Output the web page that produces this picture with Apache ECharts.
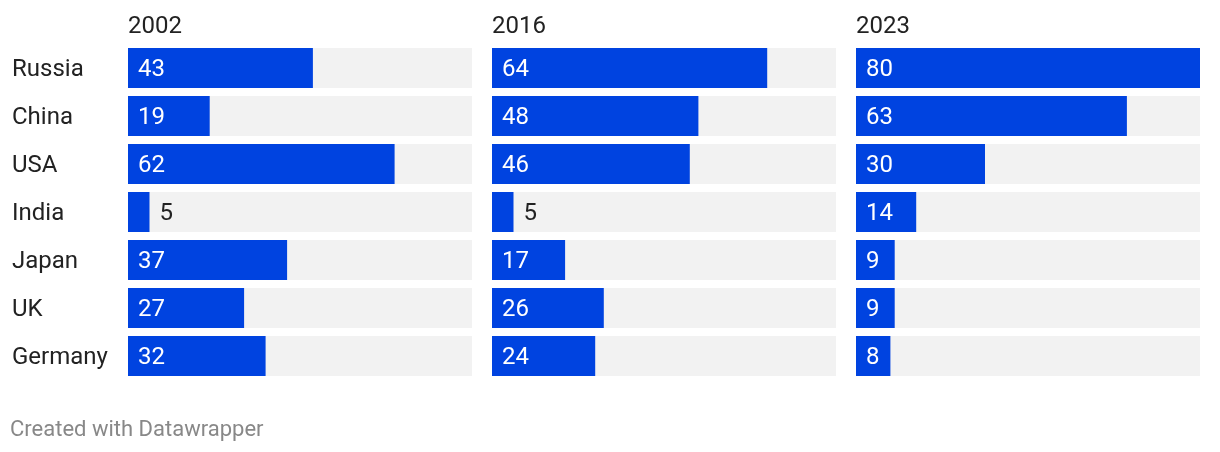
<!DOCTYPE html>
<html>
<head>
<meta charset="utf-8">
<script src="https://cdn.jsdelivr.net/npm/echarts@6/dist/echarts.min.js"></script>
<style>
  html, body { margin: 0; padding: 0; background: #fff; }
  #chart { width: 1220px; height: 452px; }
</style>
</head>
<body>
<div id="chart"></div>
<script>
const countries = ['Russia', 'China', 'USA', 'India', 'Japan', 'UK', 'Germany'];
const years = ['2002', '2016', '2023'];
const values2002 = [43, 19, 62, 5, 37, 27, 32];
const values2016 = [64, 48, 46, 5, 17, 26, 24];
const values2023 = [80, 63, 30, 14, 9, 9, 8];
const allValues = [values2002, values2016, values2023];

const maxValue = 80;
const panelLefts = [128, 492, 856];
const panelWidth = 344;
const font = 'Roboto, "Noto Sans", sans-serif';

const myChart = echarts.init(document.getElementById('chart'));

// small bars get their label outside in dark text
const makeData = (vals) => vals.map(v => {
  const px = v / maxValue * panelWidth;
  if (px < 30) {
    return { value: v, label: { position: 'right', color: '#222', distance: 10 } };
  }
  return { value: v };
});

const option = {
  animation: false,
  title: years.map((y, i) => ({
    text: y,
    left: panelLefts[i] - 5,
    top: 10,
    textStyle: { fontFamily: font, fontSize: 24, fontWeight: 'normal', color: '#222' }
  })).concat([{
    text: 'Created with Datawrapper',
    left: 5,
    top: 414,
    textStyle: { fontFamily: font, fontSize: 22, fontWeight: 'normal', color: '#888' }
  }]),
  grid: panelLefts.map(l => ({ left: l, width: panelWidth, top: 44, height: 336 })),
  xAxis: years.map((y, i) => ({
    type: 'value', gridIndex: i, min: 0, max: maxValue, show: false
  })),
  yAxis: years.map((y, i) => ({
    type: 'category',
    gridIndex: i,
    data: countries,
    inverse: true,
    axisLine: { show: false },
    axisTick: { show: false },
    axisLabel: {
      show: i === 0,
      align: 'left',
      margin: 116,
      formatter: '{a|{value}}',
      rich: {
        a: { padding: [4, 0, 0, 0], fontFamily: font, fontSize: 24, color: '#222' }
      },
      fontFamily: font,
      fontSize: 24,
      color: '#222'
    }
  })),
  series: allValues.map((vals, i) => ({
    type: 'bar',
    xAxisIndex: i,
    yAxisIndex: i,
    barWidth: 40,
    data: makeData(vals),
    itemStyle: { color: '#0043e0' },
    showBackground: true,
    backgroundStyle: { color: '#f2f2f2' },
    label: {
      show: true,
      position: 'insideLeft',
      distance: 10,
      offset: [0, 2],
      color: '#fff',
      fontFamily: font,
      fontSize: 24
    }
  }))
};

myChart.setOption(option);
</script>
</body>
</html>
